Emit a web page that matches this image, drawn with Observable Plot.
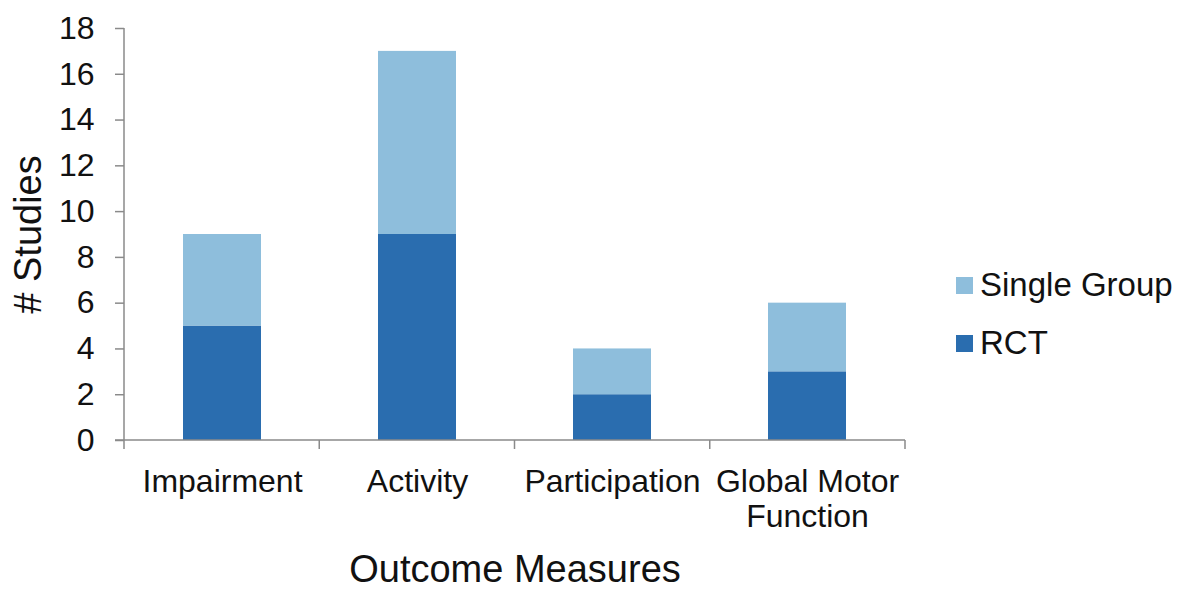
<!DOCTYPE html>
<html>
<head>
<meta charset="utf-8">
<script src="https://cdn.jsdelivr.net/npm/d3@7"></script>
<script src="https://cdn.jsdelivr.net/npm/@observablehq/plot@0.6"></script>
<style>
  html, body { margin: 0; padding: 0; background: #fff; }
  #chart { position: relative; width: 1183px; height: 592px; font-family: "Liberation Sans", Arial, sans-serif; }
  #chart svg [aria-label="y-axis tick"] { stroke: #8a8a8a; stroke-width: 1.5; }
  .legend { position: absolute; left: 956px; top: 262px; font-size: 33px; color: #111; }
  .legend .row { display: flex; align-items: center; height: 46px; margin-bottom: 12px; }
  .legend .sw { width: 17px; height: 17px; margin-right: 7px; }
</style>
</head>
<body>
<div id="chart"></div>
<script>
// Outcome measure categories and study counts per design
const categories = ["Impairment", "Activity", "Participation", "Global Motor Function"];
const rct = [5, 9, 2, 3];
const singleGroup = [4, 8, 2, 3];
const series = ["Single Group", "RCT"];
const colors = ["#8ebedc", "#2a6daf"];
const yTicks = [0, 2, 4, 6, 8, 10, 12, 14, 16, 18];

// RCT rows first so they stack at the bottom
const rows = [
  ...categories.map((c, i) => ({category: c, design: "RCT", count: rct[i]})),
  ...categories.map((c, i) => ({category: c, design: "Single Group", count: singleGroup[i]}))
];

// Axis lines plus category-boundary ticks on the x axis
function axisLines(index, scales, values, dims) {
  const {width, height, marginLeft, marginRight, marginTop, marginBottom} = dims;
  const y0 = height - marginBottom;
  const x1 = width - marginRight;
  const g = d3.create("svg:g").attr("stroke", "#8a8a8a").attr("stroke-width", 1.5).attr("fill", "none");
  g.append("line").attr("x1", marginLeft).attr("x2", marginLeft).attr("y1", marginTop).attr("y2", y0);
  g.append("line").attr("x1", marginLeft - 9).attr("x2", x1).attr("y1", y0).attr("y2", y0);
  const n = categories.length;
  for (let i = 0; i <= n; i++) {
    const x = marginLeft + (x1 - marginLeft) * i / n;
    g.append("line").attr("x1", x).attr("x2", x).attr("y1", y0).attr("y2", y0 + 9);
  }
  return g.node();
}

const plot = Plot.plot({
  width: 1183,
  height: 592,
  marginLeft: 124,
  marginRight: 278,
  marginTop: 28,
  marginBottom: 152,
  style: {fontFamily: "'Liberation Sans', Arial, sans-serif", fontSize: "32px", color: "#111", background: "#fff"},
  x: {domain: categories, paddingInner: 0.6, paddingOuter: 0.3},
  y: {domain: [0, 18]},
  color: {domain: series, range: colors},
  marks: [
    Plot.barY(rows, {x: "category", y: "count", fill: "design", order: ["RCT", "Single Group"]}),
    Plot.axisY({ticks: yTicks, tickSize: 9, tickPadding: 21, label: null}),
    Plot.axisX({tickSize: 0, tickPadding: 26, label: null, lineHeight: 1.1,
      tickFormat: d => d === "Global Motor Function" ? "Global Motor\nFunction" : d}),
    axisLines,
    Plot.text(["Outcome Measures"], {text: d => d, frameAnchor: "bottom", dy: 141, fontSize: 38, fill: "#111"}),
    Plot.text(["# Studies"], {text: d => d, frameAnchor: "left", textAnchor: "middle", dx: -96, rotate: -90, fontSize: 38, fill: "#111"})
  ]
});

const chart = document.getElementById("chart");
chart.appendChild(plot);

// Legend, Single Group listed above RCT
const legend = document.createElement("div");
legend.className = "legend";
series.forEach((s, i) => {
  const row = document.createElement("div");
  row.className = "row";
  const sw = document.createElement("div");
  sw.className = "sw";
  sw.style.background = colors[i];
  const label = document.createElement("span");
  label.textContent = s;
  row.appendChild(sw);
  row.appendChild(label);
  legend.appendChild(row);
});
chart.appendChild(legend);
</script>
</body>
</html>
